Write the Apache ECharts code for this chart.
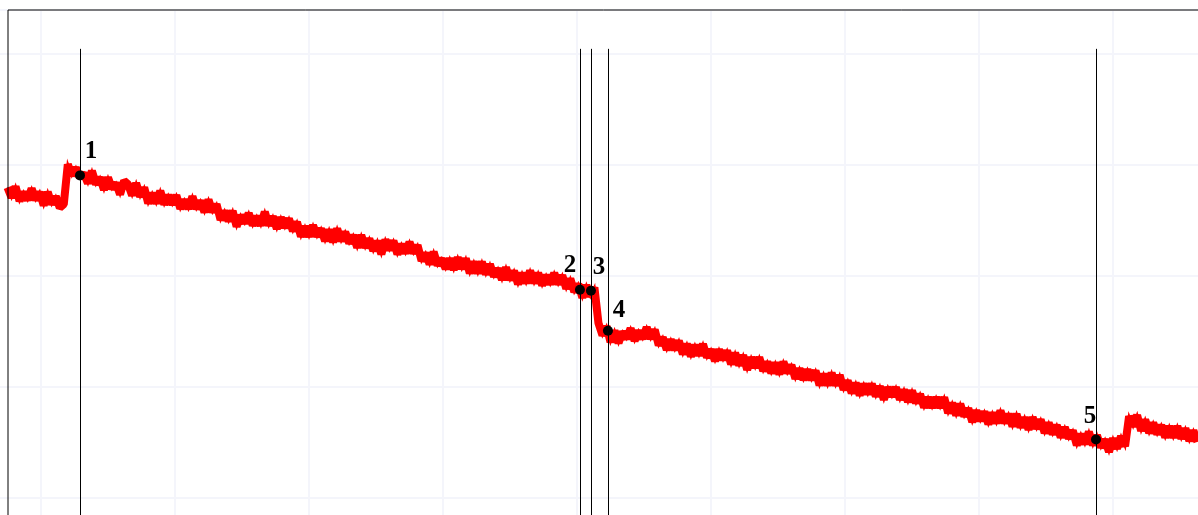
<!DOCTYPE html>
<html>
<head>
<meta charset="utf-8">
<script src="https://cdn.jsdelivr.net/npm/echarts@6/dist/echarts.min.js"></script>
<style>
html,body{margin:0;padding:0;background:#fff;}
#chart{width:1198px;height:515px;}
</style>
</head>
<body>
<div id="chart"></div>
<script>
// Signal samples, uniform sampling in time
const sampleStart = 75;
const sampleStep = 3;
const signal = [
  37.9, 37.0, 38.0, 36.7, 37.5, 36.8, 37.8, 36.8, 37.5, 36.3,
  37.5, 36.4, 37.1, 36.1, 36.4, 40.0, 39.0, 39.7, 38.8, 39.2,
  38.3, 39.4, 38.2, 38.8, 37.7, 38.8, 37.8, 38.3, 37.3, 38.5,
  38.2, 37.2, 38.3, 37.1, 37.9, 36.5, 37.4, 36.5, 37.6, 36.4,
  37.2, 36.4, 37.2, 36.0, 36.8, 36.0, 37.1, 36.0, 36.7, 35.7,
  36.8, 35.7, 36.4, 35.0, 35.8, 34.9, 35.8, 34.4, 35.4, 34.7,
  35.6, 34.5, 35.3, 34.5, 35.7, 34.5, 35.3, 34.2, 35.2, 34.3,
  35.1, 34.0, 34.8, 33.5, 34.4, 33.5, 34.5, 33.5, 34.2, 33.1,
  34.1, 33.0, 34.2, 33.1, 33.9, 32.9, 33.6, 32.5, 33.6, 32.5,
  33.3, 32.2, 33.1, 31.9, 33.2, 32.3, 33.1, 31.9, 32.8, 32.0,
  33.0, 32.0, 32.7, 31.3, 32.0, 31.0, 32.1, 30.9, 31.5, 30.6,
  31.5, 30.5, 31.6, 30.6, 31.5, 30.2, 31.2, 30.2, 31.2, 30.1,
  31.0, 29.9, 30.6, 29.6, 30.7, 29.6, 30.4, 29.2, 30.2, 29.3,
  30.4, 29.3, 30.2, 29.1, 30.0, 29.2, 30.2, 29.2, 30.0, 28.8,
  29.7, 28.5, 29.2, 28.0, 29.1, 28.1, 28.9, 25.7, 24.6, 25.4,
  24.0, 25.0, 23.9, 24.9, 24.3, 25.2, 24.1, 25.0, 24.3, 25.3,
  24.3, 25.1, 23.7, 24.4, 23.3, 24.2, 23.3, 24.1, 22.9, 23.8,
  22.7, 23.7, 22.8, 23.8, 22.6, 23.3, 22.3, 23.3, 22.4, 23.2,
  22.0, 23.0, 21.9, 22.8, 21.5, 22.6, 21.7, 22.6, 21.4, 22.2,
  21.2, 22.1, 21.1, 22.2, 21.2, 21.9, 20.7, 21.6, 20.6, 21.5,
  20.6, 21.4, 20.1, 21.1, 20.1, 21.2, 20.1, 21.0, 19.7, 20.5,
  19.4, 20.3, 19.2, 20.2, 19.3, 20.2, 19.1, 20.0, 18.8, 19.9,
  19.1, 19.9, 18.8, 19.7, 18.6, 19.6, 18.5, 19.3, 18.1, 19.0,
  18.1, 19.0, 18.1, 19.0, 17.6, 18.5, 17.4, 18.4, 17.3, 18.0,
  16.8, 17.8, 16.9, 17.7, 16.6, 17.6, 16.7, 17.8, 16.7, 17.5,
  16.4, 17.5, 16.3, 17.2, 16.1, 17.2, 16.2, 17.0, 15.8, 16.7,
  15.7, 16.5, 15.4, 16.3, 15.3, 16.0, 14.7, 15.7, 14.8, 15.9,
  14.7, 15.6, 14.5, 15.2, 14.1, 15.3, 14.4, 15.5, 14.6, 17.3,
  16.4, 17.4, 16.0, 17.0, 15.8, 16.7, 15.7, 16.5, 15.4, 16.4,
  15.4, 16.4, 15.3, 16.2, 15.1, 16.0, 15.0
];

// Events
const eventLabels = ['1', '2', '3', '4', '5'];
const eventTimes = [129.1, 502.2, 510.4, 523.1, 887.3];
const eventValues = [39.0, 28.7, 28.6, 25.0, 15.2];
const eventLineTop = 50.4;

// Axis settings
const xMin = 0, xMax = 1000, xInterval = 100;
const yMin = 0, yMax = 53.9, yInterval = 10;

// label offsets (style)
const labelOffsets = [[11, -24], [-10, -24], [8, -23], [11, -20], [-6, -23]];

const lineData = signal.map((v, i) => [sampleStart + i * sampleStep, v]);
const eventData = eventTimes.map((t, i) => ({
  value: [t, eventValues[i]],
  name: eventLabels[i],
  label: { offset: labelOffsets[i] }
}));
const markLines = eventTimes.map(t => [{ coord: [t, eventLineTop] }, { coord: [t, yMin] }]);

const chart = echarts.init(document.getElementById('chart'), null, { renderer: 'canvas' });
const splitStyle = { show: true, lineStyle: { color: '#f4f5fb', width: 2 } };
chart.setOption({
  animation: false,
  backgroundColor: '#ffffff',
  grid: [
    { left: -93, right: -49, top: 10, bottom: -93.3, outerBoundsMode: 'none', containLabel: false },
    { left: 8, right: -20, top: 10, bottom: -20, show: true, borderColor: '#000', borderWidth: 1,
      backgroundColor: 'transparent', outerBoundsMode: 'none', containLabel: false, z: 3 }
  ],
  xAxis: [
    { type: 'value', gridIndex: 0, min: xMin, max: xMax, interval: xInterval,
      axisLine: { show: false }, axisTick: { show: false }, axisLabel: { show: false },
      splitLine: splitStyle },
    { type: 'value', gridIndex: 1, show: false, min: 0, max: 1, splitLine: { show: false } }
  ],
  yAxis: [
    { type: 'value', gridIndex: 0, min: yMin, max: yMax, interval: yInterval,
      axisLine: { show: false }, axisTick: { show: false }, axisLabel: { show: false },
      splitLine: splitStyle },
    { type: 'value', gridIndex: 1, show: false, min: 0, max: 1, splitLine: { show: false } }
  ],
  series: [
    {
      name: 'signal-body',
      type: 'line', xAxisIndex: 0, yAxisIndex: 0,
      data: lineData, showSymbol: false, symbol: 'none',
      lineStyle: { color: '#ff0000', width: 8, join: 'bevel' },
      z: 2
    },
    {
      name: 'signal',
      type: 'line', xAxisIndex: 0, yAxisIndex: 0,
      data: lineData, showSymbol: false, symbol: 'none',
      lineStyle: { color: '#ff0000', width: 2.6, join: 'miter', miterLimit: 10 },
      z: 2
    },
    {
      type: 'scatter', xAxisIndex: 0, yAxisIndex: 0,
      data: eventData, symbol: 'circle', symbolSize: 10,
      itemStyle: { color: '#000', opacity: 1 },
      emphasis: { disabled: true },
      label: {
        show: true, position: 'inside', formatter: '{b}', opacity: 1,
        color: '#000', fontFamily: '"Liberation Serif", "DejaVu Serif", serif',
        fontWeight: 'bold', fontSize: 25
      },
      markLine: {
        silent: true, symbol: 'none', label: { show: false },
        lineStyle: { color: '#000', width: 1, type: 'solid', opacity: 1 },
        data: markLines
      },
      z: 5
    }
  ]
});
</script>
</body>
</html>
